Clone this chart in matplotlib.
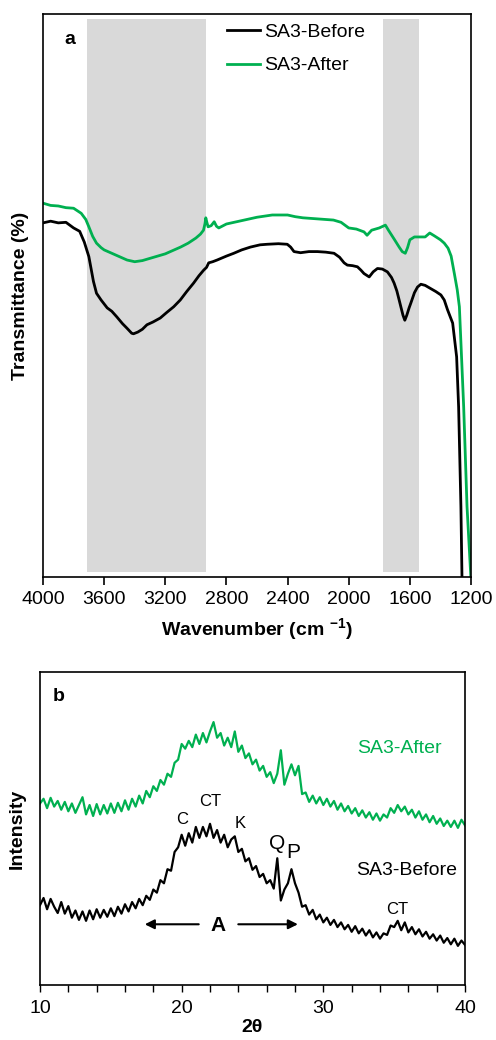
import matplotlib
matplotlib.use("Agg")
import matplotlib.pyplot as plt
from matplotlib.ticker import MultipleLocator

plt.rcParams['font.family'] = ['Liberation Sans', 'DejaVu Sans']
plt.rcParams['mathtext.fontset'] = 'custom'
plt.rcParams['mathtext.rm'] = 'Liberation Sans'
plt.rcParams['mathtext.bf'] = 'Liberation Sans:bold'

GREEN = '#00B050'
SHADE = '#D9D9D9'

# --- FTIR (panel a) ---
wn_before = [4000, 3950, 3900, 3850, 3800, 3760, 3730, 3700, 3670, 3650, 3620, 3580, 3550,
             3517, 3480, 3451, 3420, 3408, 3380, 3350, 3320, 3280, 3233, 3190, 3145, 3102,
             3060, 3015, 2980, 2949, 2930, 2916, 2890, 2861, 2800, 2752, 2700, 2643, 2580,
             2533, 2460, 2402, 2380, 2358, 2315, 2260, 2205, 2150, 2096, 2060, 2030, 2009,
             1975, 1943, 1920, 1900, 1866, 1840, 1812, 1780, 1747, 1720, 1703, 1685, 1670,
             1659, 1645, 1633, 1620, 1605, 1593, 1570, 1550, 1528, 1500, 1462, 1430, 1397,
             1375, 1354, 1320, 1294, 1281, 1266, 1259, 1255]
tr_before = [62.9, 63.2, 62.9, 63.0, 62.0, 61.4, 59.5, 56.9, 52.5, 50.4, 49.2, 47.8, 47.2,
             46.2, 45.0, 44.2, 43.3, 43.2, 43.5, 44.0, 44.8, 45.3, 46.0, 47.0, 48.0, 49.2,
             50.7, 52.2, 53.5, 54.5, 55.0, 55.8, 56.0, 56.3, 57.0, 57.5, 58.1, 58.6, 59.0,
             59.1, 59.2, 59.1, 58.6, 57.8, 57.6, 57.8, 57.8, 57.7, 57.5, 56.8, 55.8, 55.4,
             55.3, 55.1, 54.5, 53.9, 53.3, 54.2, 54.8, 54.7, 54.2, 53.2, 52.2, 50.8, 49.2,
             48.0, 46.5, 45.6, 46.5, 47.8, 48.7, 50.5, 51.5, 52.0, 51.8, 51.2, 50.7, 50.1,
             49.2, 47.5, 45.1, 39.1, 30.2, 12.5, 0.0, -3.0]

wn_after = [4000, 3950, 3900, 3850, 3800, 3750, 3720, 3700, 3675, 3650, 3620, 3600, 3550,
            3500, 3450, 3400, 3350, 3300, 3250, 3200, 3150, 3100, 3050, 3000, 2970, 2950,
            2940, 2935, 2928, 2920, 2900, 2880, 2865, 2850, 2800, 2700, 2600, 2500, 2400,
            2350, 2300, 2200, 2100, 2050, 2000, 1950, 1900, 1880, 1850, 1800, 1760, 1740,
            1700, 1670, 1650, 1630, 1615, 1600, 1570, 1530, 1500, 1470, 1440, 1400, 1375,
            1350, 1330, 1309, 1290, 1276, 1248, 1226, 1200]
tr_after = [66.4, 66.0, 65.9, 65.6, 65.5, 64.6, 63.5, 62.2, 60.5, 59.3, 58.5, 58.1, 57.5,
            56.9, 56.3, 56.0, 56.2, 56.6, 57.0, 57.4, 58.0, 58.6, 59.3, 60.2, 60.9, 61.6,
            62.8, 63.8, 63.0, 62.2, 62.4, 63.1, 62.3, 62.0, 62.7, 63.3, 63.9, 64.3, 64.3,
            64.0, 63.8, 63.6, 63.4, 63.0, 62.0, 61.8, 61.3, 60.7, 61.6, 62.0, 62.5, 61.6,
            59.9, 58.6, 57.8, 57.5, 58.5, 59.9, 60.4, 60.4, 60.4, 61.1, 60.6, 59.9, 59.3,
            58.4, 57.0, 53.9, 51.0, 48.0, 30.3, 12.5, -0.5]

shade_bands = [(3715, 2935), (1775, 1541)]
ftir_ticks = [4000, 3600, 3200, 2800, 2400, 2000, 1600, 1200]

# --- XRD (panel b) ---
two_theta = [10 + 0.25 * i for i in range(121)]
int_before = [25.5, 27.8, 24.2, 27.5, 25.0, 23.0, 26.5, 22.8, 25.2, 21.5, 23.8, 20.8, 23.5,
              20.5, 23.8, 21.0, 24.2, 21.5, 24.0, 21.8, 24.5, 22.0, 25.0, 22.8, 25.8, 23.5,
              26.5, 24.5, 27.5, 25.5, 28.5, 27.2, 30.5, 29.5, 33.5, 32.5, 37.0, 36.5, 42.5,
              44.0, 48.0, 44.5, 48.5, 45.5, 50.5, 47.0, 50.5, 47.5, 51.5, 47.0, 49.5, 45.5,
              48.0, 44.0, 46.5, 47.5, 42.5, 43.5, 39.5, 40.5, 36.8, 38.0, 34.5, 35.5, 32.5,
              33.5, 30.8, 40.5, 27.0, 30.5, 32.5, 37.0, 32.5, 29.5, 25.0, 25.5, 22.5, 24.0,
              21.0, 22.5, 20.0, 21.5, 19.2, 20.8, 18.5, 20.0, 17.8, 19.2, 17.0, 18.8, 16.5,
              18.0, 15.8, 17.5, 15.2, 16.8, 14.8, 16.5, 16.0, 19.0, 18.5, 20.5, 17.5, 20.0,
              16.8, 18.5, 16.2, 17.8, 15.5, 17.0, 14.8, 16.2, 14.2, 15.8, 13.5, 15.0, 13.0,
              14.8, 12.5, 14.2, 12.8]
int_after = [58.0, 59.5, 56.5, 59.8, 57.0, 58.8, 56.0, 58.5, 55.5, 58.0, 55.0, 57.5, 60.0,
             54.5, 57.5, 54.0, 57.8, 54.5, 57.5, 54.8, 58.0, 55.0, 58.2, 55.5, 59.0, 56.0,
             59.5, 57.0, 60.5, 58.0, 62.0, 60.0, 63.5, 62.0, 65.5, 64.0, 67.5, 66.5, 71.0,
             72.0, 77.0, 75.5, 78.0, 76.0, 80.0, 77.0, 80.5, 77.5, 81.0, 84.0, 79.0, 80.5,
             76.5, 79.0, 76.0, 81.0, 74.5, 76.5, 72.5, 74.0, 70.5, 72.0, 68.5, 70.0, 66.5,
             68.0, 64.5, 67.5, 75.0, 64.0, 67.5, 70.5, 67.0, 70.0, 61.0, 61.5, 58.5, 60.5,
             58.0, 60.0, 57.5, 59.5, 57.0, 58.8, 56.0, 58.0, 55.5, 57.2, 54.8, 56.5, 54.0,
             55.8, 53.5, 55.2, 52.8, 54.8, 52.5, 54.5, 53.5, 56.5, 55.0, 57.5, 55.5, 57.0,
             54.5, 56.0, 53.5, 55.5, 52.8, 54.5, 52.0, 54.0, 51.5, 53.2, 50.8, 52.5, 50.5,
             52.5, 50.2, 52.8, 51.0]

# phase labels: text, x, y, size
phase_labels = [("C", 20.0, 52.9, 12), ("CT", 22.0, 58.5, 12), ("K", 24.1, 51.6, 12),
                ("Q", 26.75, 45.2, 15), ("P", 27.9, 42.2, 15), ("CT", 35.2, 24.1, 12)]

fig = plt.figure(figsize=(4.96, 10.4), dpi=100)

# panel a
ax1 = fig.add_axes([43 / 496, 1 - 577 / 1040, 428 / 496, 563 / 1040])
for lo, hi in shade_bands:
    ax1.axvspan(lo, hi, ymin=0.008, ymax=0.992, color=SHADE, lw=0, zorder=0)
ax1.plot(wn_before, tr_before, color='black', lw=2.0, label='SA3-Before')
ax1.plot(wn_after, tr_after, color=GREEN, lw=2.0, label='SA3-After')
ax1.set_xlim(4000, 1200)
ax1.set_ylim(0, 100)
ax1.set_xticks(ftir_ticks)
ax1.set_yticks([])
ax1.tick_params(axis='x', direction='out', length=6, width=1.2, labelsize=14, pad=4)
ax1.set_xlabel(r'Wavenumber (cm $^{\mathbf{-1}}$)', fontsize=14, fontweight='bold', labelpad=6)
ax1.set_ylabel('Transmittance (%)', fontsize=14, fontweight='bold', labelpad=10)
ax1.text(0.05, 0.97, 'a', transform=ax1.transAxes, fontsize=14, fontweight='bold',
         ha='left', va='top')
ax1.legend(loc='upper left', bbox_to_anchor=(0.43, 0.983), frameon=False, fontsize=14,
           handlelength=1.7, handletextpad=0.2, labelspacing=0.8, borderpad=0,
           borderaxespad=0)
for s in ax1.spines.values():
    s.set_linewidth(1.2)

# panel b
ax2 = fig.add_axes([40 / 496, 1 - 985 / 1040, 425 / 496, 313 / 1040])
ax2.plot(two_theta, int_after, color=GREEN, lw=1.6)
ax2.plot(two_theta, int_before, color='black', lw=1.6)
ax2.set_xlim(10, 40)
ax2.set_ylim(0, 100)
ax2.xaxis.set_major_locator(MultipleLocator(10))
ax2.xaxis.set_minor_locator(MultipleLocator(2))
ax2.set_yticks([])
ax2.tick_params(axis='x', which='both', direction='out', length=5, width=1.0,
                labelsize=14, pad=6)
ax2.set_xlabel('2θ', fontsize=14, fontweight='bold', labelpad=1)
ax2.set_ylabel('Intensity', fontsize=14, fontweight='bold', labelpad=10)
ax2.text(0.03, 0.95, 'b', transform=ax2.transAxes, fontsize=14, fontweight='bold',
         ha='left', va='top')
ax2.text(35.4, 75.5, 'SA3-After', color=GREEN, fontsize=14, ha='center', va='center')
ax2.text(35.9, 36.7, 'SA3-Before', color='black', fontsize=14, ha='center', va='center')
for txt, x, y, fs in phase_labels:
    ax2.text(x, y, txt, fontsize=fs, ha='center', va='center')
ax2.text(22.6, 19.1, 'A', fontsize=15, fontweight='bold', ha='center', va='center')
ax2.annotate('', xy=(17.2, 19.4), xytext=(21.4, 19.4),
             arrowprops=dict(arrowstyle='-|>', color='black', lw=1.5, mutation_scale=14))
ax2.annotate('', xy=(28.4, 19.4), xytext=(23.8, 19.4),
             arrowprops=dict(arrowstyle='-|>', color='black', lw=1.5, mutation_scale=14))
for s in ax2.spines.values():
    s.set_linewidth(1.2)

fig.savefig('out.png', dpi=100)
